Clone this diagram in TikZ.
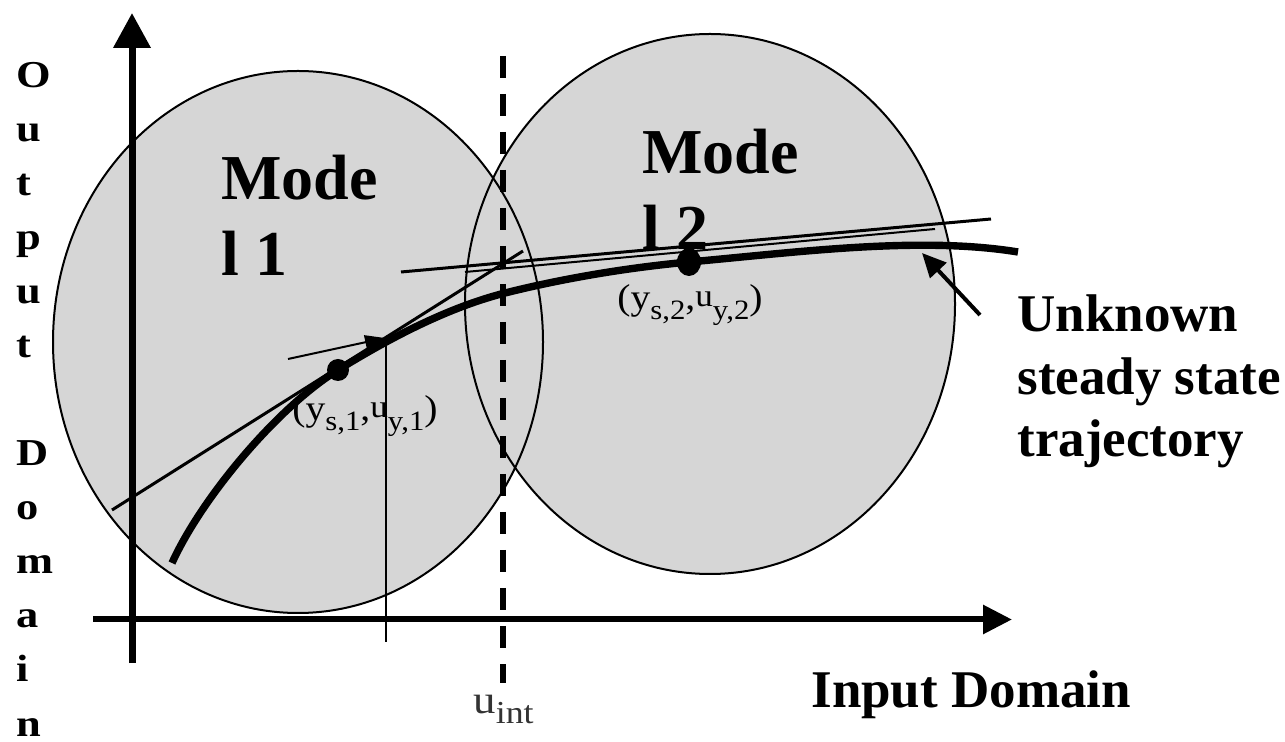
\documentclass[tikz,border=0pt]{standalone}
\usepackage{fontspec}
\setmainfont{Liberation Serif}
\usepackage{graphicx}
\usetikzlibrary{arrows.meta}
\definecolor{modefill}{RGB}{214,214,214}
\newcommand{\lsub}[1]{\raisebox{-5pt}{\fontsize{14}{14}\selectfont #1}}
\newcommand{\lu}{\raisebox{1.5pt}{\fontsize{16}{16}\selectfont u}}
\begin{document}
\begin{tikzpicture}[x=0.5pt,y=-0.5pt,
  modebody/.style={fill=modefill},
  modeedge/.style={draw=black,line width=1pt},
  axisline/.style={line width=3.5pt},
  thinline/.style={line width=1.5pt},
  hairline/.style={line width=0.75pt},
  trajline/.style={line width=3.7pt,line cap=butt},
  modetext/.style={anchor=base west,inner sep=0pt,font=\bfseries\fontsize{32}{36}\selectfont},
  bigtext/.style={anchor=base west,inner sep=0pt,font=\bfseries\fontsize{26.5}{30}\selectfont},
  axletter/.style={anchor=base west,inner sep=0pt,font=\bfseries\fontsize{19}{22}\selectfont},
  ptlabel/.style={anchor=base west,inner sep=0pt,font=\fontsize{18}{20}\selectfont}
]
\useasboundingbox (0,0) rectangle (1285,742);

% mode regions
\fill[modebody] (298,342) ellipse [x radius=122.5pt, y radius=135.5pt];
\fill[modebody] (710,304) ellipse [x radius=122.5pt, y radius=135pt];
\draw[modeedge] (298,342) ellipse [x radius=122.5pt, y radius=135.5pt];
\draw[modeedge] (710,304) ellipse [x radius=122.5pt, y radius=135pt];

% mode texts
\node[modetext] (m1a) at (221,200) {Mode};
\node[modetext] (m1b) at (221,276) {l 1};
\node[modetext] (m2a) at (642,174) {Mode};
\node[modetext] (m2b) at (642,250) {l 2};

% coordinates
\coordinate (yorig) at (132,663);
\coordinate (ytip) at (132,13);
\coordinate (xorig) at (93,619.5);
\coordinate (xtip) at (1012,619.5);
\coordinate (dtop) at (503,56);
\coordinate (dbot) at (503,683);
\coordinate (c0) at (172,563);
\coordinate (p1) at (338,370);
\coordinate (c2) at (505,293);
\coordinate (p2) at (689,262);
\coordinate (c4) at (1018,252);
\coordinate (t1a) at (112,510);
\coordinate (t1b) at (523,251);
\coordinate (va) at (288,359);
\coordinate (vb) at (385,338);
\coordinate (vl1) at (386,340);
\coordinate (vl2) at (386,642);
\coordinate (la1) at (401,272);
\coordinate (la2) at (991,219);
\coordinate (lb1) at (465,272);
\coordinate (lb2) at (935,229);
\coordinate (ptail) at (980,315);
\coordinate (phead) at (922,253);

% axes
\draw[axisline,-{Triangle[length=17.5pt,width=18pt]}] (yorig) -- (ytip);
\draw[line width=3pt,-{Triangle[length=14.5pt,width=14pt]}] (xorig) -- (xtip);

% dashed boundary
\draw[line width=3pt,dash pattern=on 11pt off 8pt] (dtop) -- (dbot);

% trajectory
\draw[trajline] (c0) .. controls (202,497) and (278,407) .. (p1)
  .. controls (393,336) and (450,307) .. (c2)
  .. controls (565,278) and (629,267.5) .. (p2)
  .. controls (800,252) and (920,236) .. (c4);

% tangents and helper lines
\draw[thinline] (t1a) -- (t1b);
\draw[line width=1pt,-{Triangle[length=10pt,width=7pt]}] (va) -- (vb);
\draw[hairline] (vl1) -- (vl2);
\draw[thinline] (la1) -- (la2);
\draw[line width=1pt] (lb1) -- (lb2);

% points
\fill (p1) circle [radius=5.5pt];
\fill (p2) ellipse [x radius=6pt, y radius=7pt];

% point labels
\node[ptlabel] (lab1) at (292,421) {\scalebox{1.1}[1]{(y\lsub{s,1},\lu\lsub{y,1})}};
\node[ptlabel] (lab2) at (617,310) {\scalebox{1.1}[1]{(y\lsub{s,2},\lu\lsub{y,2})}};
\node[ptlabel,text=black!80,font=\fontsize{20}{22}\selectfont] (uint) at (473,713)
  {\scalebox{1.12}[1]{u\raisebox{-5pt}{\fontsize{16}{16}\selectfont int}}};

% pointer to trajectory
\draw[line width=2pt,-{Triangle[length=12pt,width=11pt]}] (ptail) -- (phead);

% right text
\node[bigtext] (unk1) at (1017,332) {Unknown};
\node[bigtext] (unk2) at (1017,395) {steady state};
\node[bigtext] (unk3) at (1017,457) {trajectory};
\node[bigtext] (inp) at (811,707) {Input Domain};

% vertical axis title
\foreach \ch/\k in {O/0,u/1,t/2,p/3,u/4,t/5,D/7,o/8,m/9,a/10,i/11,n/12}{
  \node[axletter] (ax\k) at (16,88+54*\k) {\scalebox{1.17}[1]{\ch}};
}
\end{tikzpicture}
\end{document}
